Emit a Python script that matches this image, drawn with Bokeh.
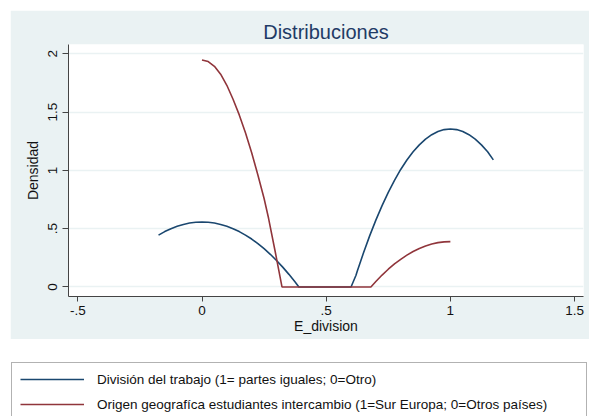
from bokeh.plotting import figure
from bokeh.models import FixedTicker, Legend, LegendItem, ColumnDataSource, Range1d
from bokeh.embed import file_html
from bokeh.resources import INLINE

# ---- data ----
blue_x = [-0.175, -0.15, -0.125, -0.1, -0.075, -0.05, -0.025, 0.0, 0.025, 0.05, 0.075, 0.1,
          0.125, 0.15, 0.175, 0.2, 0.225, 0.25, 0.275, 0.3, 0.325, 0.35, 0.375, 0.39,
          0.45, 0.5, 0.55, 0.6, 0.62, 0.625, 0.65, 0.675, 0.7, 0.725, 0.75, 0.775, 0.8,
          0.825, 0.85, 0.875, 0.9, 0.925, 0.95, 0.975, 1.0, 1.025, 1.05, 1.075, 1.1,
          1.125, 1.15, 1.173]
blue_y = [0.445, 0.475, 0.500, 0.520, 0.536, 0.548, 0.555, 0.557, 0.555, 0.548, 0.536, 0.520,
          0.500, 0.475, 0.445, 0.411, 0.372, 0.328, 0.280, 0.227, 0.170, 0.108, 0.042, 0.0,
          0.0, 0.0, 0.0, 0.0, 0.100, 0.134, 0.291, 0.438, 0.573, 0.698, 0.812, 0.915, 1.008,
          1.089, 1.160, 1.219, 1.268, 1.306, 1.333, 1.350, 1.355, 1.350, 1.333, 1.306, 1.268,
          1.219, 1.160, 1.090]
red_x = [0.0, 0.025, 0.05, 0.075, 0.1, 0.125, 0.15, 0.175, 0.2, 0.225, 0.25, 0.268, 0.295,
         0.322, 0.4, 0.5, 0.6, 0.68, 0.7, 0.725, 0.75, 0.775, 0.8, 0.825, 0.85, 0.875,
         0.9, 0.925, 0.95, 0.975, 1.0]
red_y = [1.947, 1.934, 1.893, 1.825, 1.730, 1.610, 1.476, 1.322, 1.152, 0.960, 0.759, 0.589,
         0.300, 0.0, 0.0, 0.0, 0.0, 0.0, 0.047, 0.102, 0.152, 0.197, 0.237, 0.273, 0.304,
         0.330, 0.351, 0.368, 0.380, 0.387, 0.389]

series_labels = ["División del trabajo (1= partes iguales; 0=Otro)",
                 "Origen geografíca estudiantes intercambio (1=Sur Europa; 0=Otros países)"]
x_ticks = [-0.5, 0.0, 0.5, 1.0, 1.5]
x_tick_labels = ["-.5", "0", ".5", "1", "1.5"]
y_ticks = [0.0, 0.5, 1.0, 1.5, 2.0]
y_tick_labels = ["0", ".5", "1", "1.5", "2"]
title_text = "Distribuciones"
x_title = "E_division"
y_title = "Densidad"

BLUE = "#1a476f"
RED = "#90353b"
REGION = "#EAF2F3"
FONT = "Liberation Sans"

p = figure(width=579, height=329, output_backend="svg", toolbar_location=None,
           x_range=Range1d(-0.5375, 1.536), y_range=Range1d(-0.082, 2.08),
           min_border_left=58, min_border_right=6, min_border_top=34, min_border_bottom=43,
           border_fill_color=REGION, background_fill_color="white",
           outline_line_color=None, title=title_text)
p.margin = (10, 0, 0, 10)

p.title.align = "center"
p.title.text_font = FONT
p.title.text_font_size = "20px"
p.title.text_font_style = "normal"
p.title.text_color = "#1F3B66"
p.title.standoff = 4

p.line(blue_x, blue_y, line_color=BLUE, line_width=1.6)
p.line(red_x, red_y, line_color=RED, line_width=1.6)

p.xaxis.ticker = FixedTicker(ticks=x_ticks)
p.xaxis.major_label_overrides = {t: l for t, l in zip(x_ticks, x_tick_labels)}
p.yaxis.ticker = FixedTicker(ticks=y_ticks)
p.yaxis.major_label_overrides = {t: l for t, l in zip(y_ticks, y_tick_labels)}
p.yaxis.major_label_orientation = "vertical"
p.xaxis.axis_label = x_title
p.yaxis.axis_label = y_title

for ax in (p.xaxis, p.yaxis):
    ax.axis_line_color = "#444444"
    ax.axis_line_width = 1
    ax.major_tick_line_color = "#444444"
    ax.minor_tick_line_color = None
    ax.major_tick_in = 0
    ax.major_label_text_font = FONT
    ax.major_label_text_font_size = "13.5px"
    ax.major_label_text_color = "#111111"
    ax.axis_label_text_font = FONT
    ax.axis_label_text_font_size = "14px"
    ax.axis_label_text_font_style = "normal"
    ax.axis_label_text_color = "#111111"
p.xaxis.major_tick_out = 5
p.yaxis.major_tick_out = 6
p.xaxis.major_label_standoff = 4
p.yaxis.major_label_standoff = 5
p.xaxis.axis_label_standoff = 0
p.yaxis.axis_label_standoff = 5

p.xgrid.grid_line_color = None
p.ygrid.grid_line_color = REGION
p.ygrid.grid_line_width = 1.5

# ---- legend panel (separate root so it is not aligned to the plot frame) ----
leg = figure(width=578, height=54, output_backend="svg", toolbar_location=None,
             x_range=Range1d(0, 1), y_range=Range1d(0, 1),
             min_border=0, border_fill_color="white", background_fill_color="white",
             outline_line_color=None)
leg.margin = (23, 0, 0, 11)
leg.axis.visible = False
leg.grid.visible = False
dummy_b = ColumnDataSource(data=dict(x=[5, 6], y=[5, 5]))
dummy_r = ColumnDataSource(data=dict(x=[5, 6], y=[5, 5]))
rb = leg.line("x", "y", source=dummy_b, line_color=BLUE, line_width=1.6)
rr = leg.line("x", "y", source=dummy_r, line_color=RED, line_width=1.6)
legend = Legend(items=[LegendItem(label=series_labels[0], renderers=[rb]),
                       LegendItem(label=series_labels[1], renderers=[rr])],
                location="top_left", margin=0, padding=8, spacing=9,
                glyph_width=64, glyph_height=16, label_height=16, label_width=481,
                label_standoff=13, label_text_font=FONT, label_text_font_size="13.5px",
                label_text_color="#111111", border_line_color="#666666",
                border_line_width=1, background_fill_color="white", background_fill_alpha=1)
leg.add_layout(legend, "center")

open("out.html", "w").write(file_html([p, leg], INLINE))
